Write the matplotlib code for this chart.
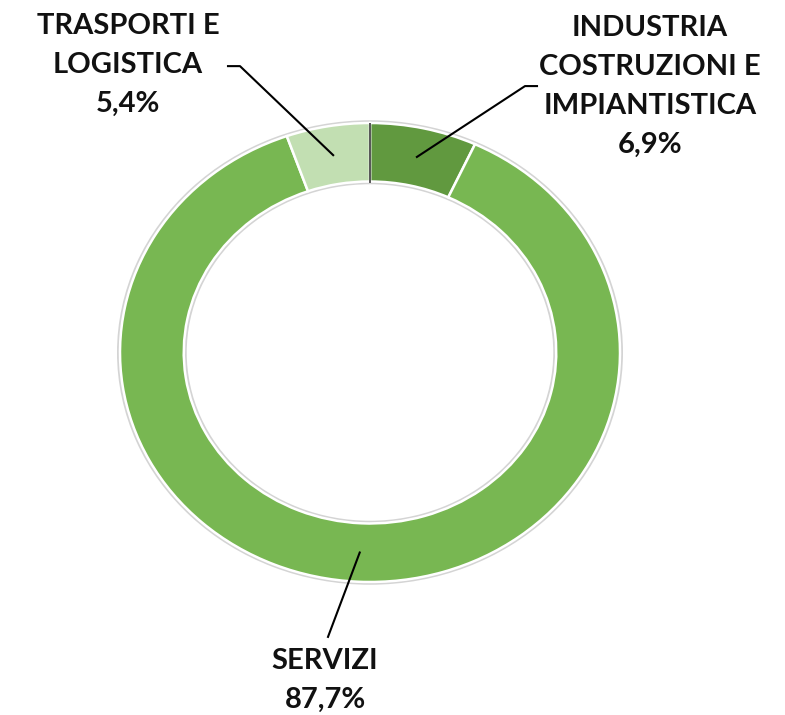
import numpy as np
import matplotlib.pyplot as plt

labels = ["INDUSTRIA\nCOSTRUZIONI E\nIMPIANTISTICA", "SERVIZI", "TRASPORTI E\nLOGISTICA"]
shares = [6.9, 87.7, 5.4]
pct_text = ["6,9%", "87,7%", "5,4%"]
colors = ["#61993f", "#78b752", "#c2dfb2"]

plt.rcParams['font.family'] = ['Lato', 'DejaVu Sans']

W, H = 785, 715
fig = plt.figure(figsize=(W / 100, H / 100), dpi=100)
# ring box in pixels: x 120..620, y 123..582 (top origin)
ax = fig.add_axes([120 / W, (H - 582) / H, 500 / W, 459 / H])
ax.set_xlim(-1, 1)
ax.set_ylim(-1, 1)
ax.axis('off')

r_in = 0.745
# soft grey rim behind the ring
ax.pie([1], radius=1.012, colors=["#d4d4d4"], startangle=90,
       wedgeprops=dict(width=1.012 - r_in + 0.012, linewidth=0))
wedges, _ = ax.pie(shares, radius=1.0, colors=colors, startangle=90, counterclock=False,
                   wedgeprops=dict(width=1 - r_in, edgecolor="white", linewidth=1.8))
ax.set_aspect('auto')
ax.set_xlim(-1, 1)
ax.set_ylim(-1, 1)

# dark seam at the top between the two small slices
ax.plot([0, 0], [r_in, 1.0], color="#555555", lw=1.4, zorder=5)

def to_data(px, py):
    return (px - 370) / 250, (352 - py) / 230

# label layout in pixels: text centre, elbow points of the leader
layout = {
    0: dict(text=(650, 85), path=[(537, 85), (525, 85)]),
    1: dict(text=(325, 681), path=[(328, 637)]),
    2: dict(text=(128, 64), path=[(228, 65), (240, 65)]),
}
for i, w in enumerate(wedges):
    mid = np.deg2rad((w.theta1 + w.theta2) / 2)
    r = (1 + r_in) / 2
    ax_, ay_ = r * np.cos(mid), r * np.sin(mid)
    pts = [to_data(*p) for p in layout[i]["path"]] + [(ax_, ay_)]
    xs, ys = zip(*pts)
    ax.plot(xs, ys, color="black", lw=1.5, clip_on=False, zorder=6)
    tx, ty = to_data(*layout[i]["text"])
    ax.text(tx, ty, labels[i] + "\n" + pct_text[i], ha="center", va="center",
            fontsize=21, fontweight="bold", color="#111111", linespacing=1.62,
            clip_on=False)

fig.savefig("out.png", dpi=100)
